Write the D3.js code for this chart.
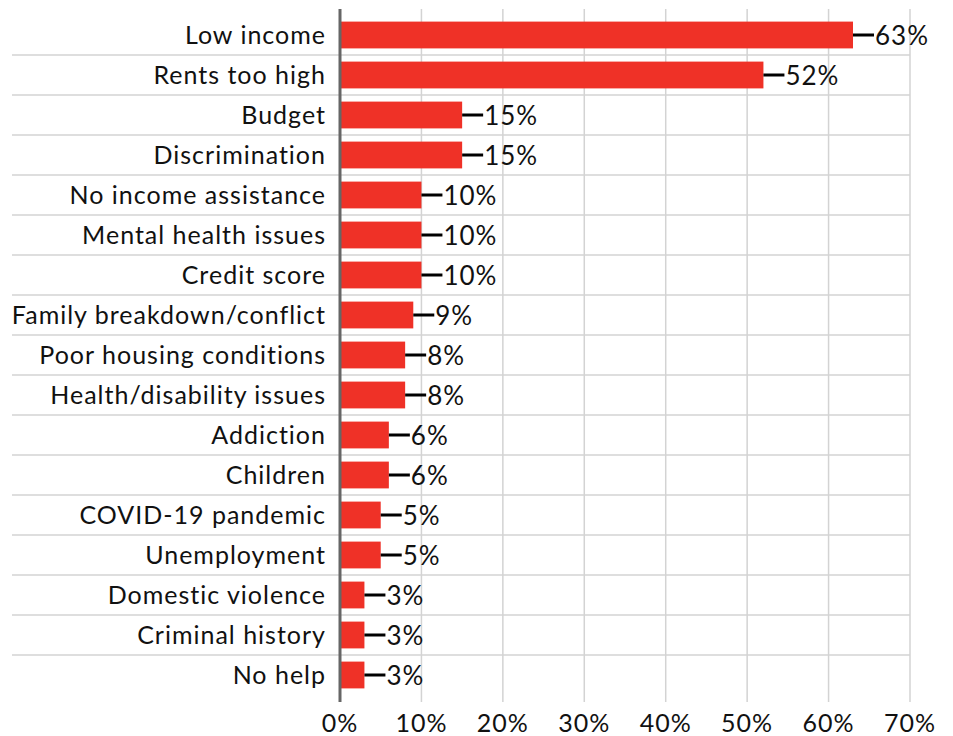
<!DOCTYPE html>
<html>
<head>
<meta charset="utf-8">
<script src="https://cdn.jsdelivr.net/npm/d3@7"></script>
<style>
  body { margin: 0; background: #fff; }
  text { font-family: Lato, "Open Sans", sans-serif; fill: #111; letter-spacing: 1px; }
</style>
</head>
<body>
<svg id="chart"></svg>
<script>
// reasons, top to bottom
const categories = ["Low income", "Rents too high", "Budget", "Discrimination",
  "No income assistance", "Mental health issues", "Credit score",
  "Family breakdown/conflict", "Poor housing conditions", "Health/disability issues",
  "Addiction", "Children", "COVID-19 pandemic", "Unemployment",
  "Domestic violence", "Criminal history", "No help"]
const values = [63, 52, 15, 15, 10, 10, 10, 9, 8, 8, 6, 6, 5, 5, 3, 3, 3]
const xTicks = [0, 10, 20, 30, 40, 50, 60, 70]

const data = categories.map((c, i) => ({ name: c, value: values[i] }))

let svgWidth = 953, svgHeight = 736
let margin = { left: 340, right: 43, top: 15, bottom: 41 }
let width = svgWidth - margin.left - margin.right
let height = svgHeight - margin.top - margin.bottom

let svg = d3.select("#chart")
  .attr("width", svgWidth)
  .attr("height", svgHeight)

let xScale = d3.scaleLinear()
  .domain([0, 70])
  .range([0, width])

let yScale = d3.scaleBand()
  .domain(categories)
  .range([0, height])
  .paddingInner(0.33)
  .paddingOuter(0.165)

let g = svg.append("g")
  .attr("transform", `translate(${margin.left}, ${margin.top})`)

// vertical grid lines
g.selectAll(".grid")
  .data(xTicks.slice(1))
  .enter()
  .append("line")
  .attr("x1", d => xScale(d))
  .attr("x2", d => xScale(d))
  .attr("y1", -6)
  .attr("y2", height + 7)
  .attr("stroke", "#d3d3d3")
  .attr("stroke-width", 1.5)

// row separators, spanning the label area too
let step = yScale.step()
g.selectAll(".sep")
  .data(categories.slice(1))
  .enter()
  .append("line")
  .attr("x1", -328)
  .attr("x2", xScale(70))
  .attr("y1", d => yScale(d) - step * 0.165)
  .attr("y2", d => yScale(d) - step * 0.165)
  .attr("stroke", "#d3d3d3")
  .attr("stroke-width", 1.5)

// bars
g.selectAll(".bar")
  .data(data)
  .enter()
  .append("rect")
  .attr("x", 0)
  .attr("y", d => yScale(d.name))
  .attr("width", d => xScale(d.value))
  .attr("height", yScale.bandwidth())
  .attr("fill", "#ef3127")

// leader lines
g.selectAll(".lead")
  .data(data)
  .enter()
  .append("line")
  .attr("x1", d => xScale(d.value))
  .attr("x2", d => xScale(d.value) + 21)
  .attr("y1", d => yScale(d.name) + yScale.bandwidth() / 2)
  .attr("y2", d => yScale(d.name) + yScale.bandwidth() / 2)
  .attr("stroke", "#000")
  .attr("stroke-width", 3)

// value labels
g.selectAll(".val")
  .data(data)
  .enter()
  .append("text")
  .attr("x", d => xScale(d.value) + 22)
  .attr("y", d => yScale(d.name) + yScale.bandwidth() / 2)
  .attr("dy", "0.38em")
  .style("font-size", "26px")
  .text(d => d.value + "%")

// category labels
g.selectAll(".cat")
  .data(data)
  .enter()
  .append("text")
  .attr("x", -14)
  .attr("y", d => yScale(d.name) + yScale.bandwidth() / 2)
  .attr("dy", "0.36em")
  .attr("text-anchor", "end")
  .style("font-size", "25px")
  .text(d => d.name)

// x tick labels
g.selectAll(".tick-label")
  .data(xTicks)
  .enter()
  .append("text")
  .attr("x", d => xScale(d))
  .attr("y", height + 37)
  .attr("text-anchor", "middle")
  .style("font-size", "25px")
  .text(d => d + "%")

// axis line
g.append("line")
  .attr("x1", 0)
  .attr("x2", 0)
  .attr("y1", -6)
  .attr("y2", height + 7)
  .attr("stroke", "#666")
  .attr("stroke-width", 3)
</script>
</body>
</html>
